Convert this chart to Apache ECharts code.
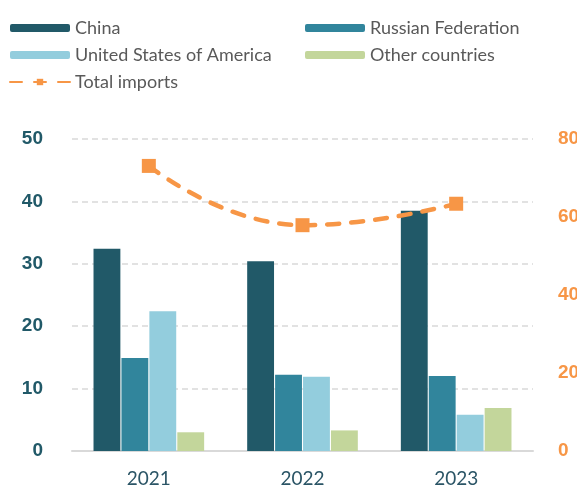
<!DOCTYPE html>
<html>
<head>
<meta charset="utf-8">
<script src="https://cdn.jsdelivr.net/npm/echarts@6/dist/echarts.min.js"></script>
<style>
  html, body { margin: 0; padding: 0; background: #fff; }
  #chart { width: 577px; height: 490px; }
</style>
</head>
<body>
<div id="chart"></div>
<script>
const years = ['2021', '2022', '2023']
const china = [32.4, 30.4, 38.5]
const russia = [14.9, 12.2, 12.0]
const usa = [22.4, 11.9, 5.8]
const others = [3.0, 3.3, 6.9]
const totalImports = [73.1, 57.9, 63.4]

const font = 'Lato'
const boldFont = 'Liberation Sans'
const chart = echarts.init(document.getElementById('chart'))

const barSeries = (name, data, color) => ({
  name: name,
  type: 'bar',
  data: data,
  barGap: '4%',
  barCategoryGap: '28%',
  itemStyle: { color: color }
})

chart.setOption({
  animation: false,
  textStyle: { fontFamily: font },
  legend: [
    {
      left: 4, top: 14, orient: 'vertical', itemGap: 9,
      itemWidth: 60, itemHeight: 8,
      textStyle: { fontSize: 18, color: '#595959', fontFamily: font },
      data: ['China', 'United States of America', 'Total imports']
    },
    {
      left: 300, top: 14, orient: 'vertical', itemGap: 9,
      itemWidth: 60, itemHeight: 8,
      textStyle: { fontSize: 18, color: '#595959', fontFamily: font },
      data: ['Russian Federation', 'Other countries']
    }
  ],
  grid: { left: 72, right: 44, top: 139, bottom: 39, outerBoundsMode: 'none' },
  xAxis: {
    type: 'category',
    data: years,
    axisLine: { lineStyle: { color: '#d9d9d9', width: 2 } },
    axisTick: { show: false },
    axisLabel: { fontSize: 19, color: '#2b5566', margin: 18 }
  },
  yAxis: [
    {
      type: 'value', min: 0, max: 50, interval: 10,
      axisLabel: { fontSize: 19, fontWeight: 'bold', fontFamily: boldFont, color: '#215968', margin: 29 },
      splitLine: { lineStyle: { color: '#d9d9d9', type: [6, 4], width: 1.5 } }
    },
    {
      type: 'value', min: 0, max: 80, interval: 20,
      axisLabel: { fontSize: 19, fontWeight: 'bold', fontFamily: boldFont, color: '#f79646', margin: 25 },
      splitLine: { show: false }
    }
  ],
  series: [
    barSeries('China', china, '#215968'),
    barSeries('Russian Federation', russia, '#31859c'),
    barSeries('United States of America', usa, '#93cddd'),
    barSeries('Other countries', others, '#c3d69b'),
    {
      name: 'Total imports',
      type: 'line',
      yAxisIndex: 1,
      data: totalImports,
      smooth: true,
      symbol: 'rect',
      symbolSize: 14,
      itemStyle: { color: '#f79646' },
      lineStyle: { color: '#f79646', width: 4.5, type: [12, 12], cap: 'round' }
    }
  ]
})
</script>
</body>
</html>
